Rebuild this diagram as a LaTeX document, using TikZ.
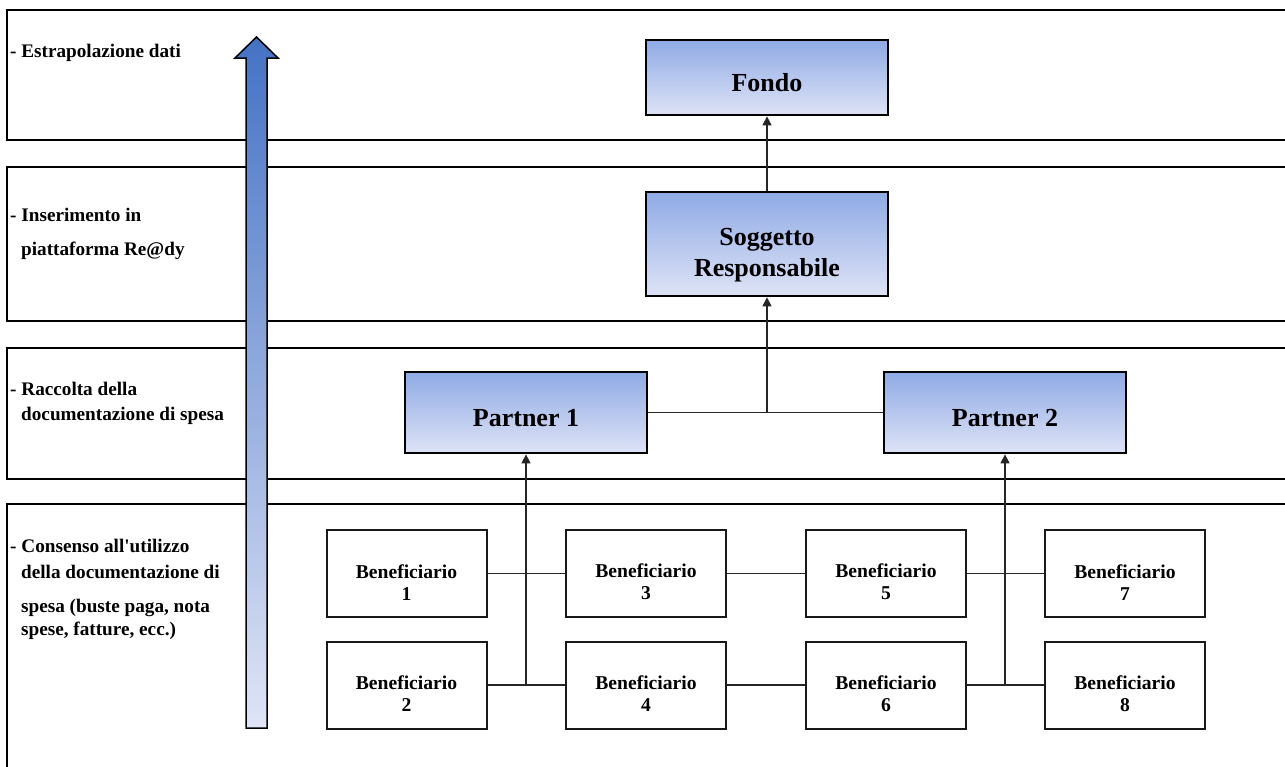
\documentclass[tikz,border=0pt]{standalone}
\usepackage{fontspec}
\setmainfont{Liberation Serif}
\usetikzlibrary{arrows.meta}

\definecolor{boxtop}{RGB}{143,170,229}
\definecolor{boxbot}{RGB}{222,227,246}
\definecolor{arrtop}{RGB}{68,114,196}
\definecolor{arrbot}{RGB}{224,229,246}

\tikzset{
  band/.style={draw=black, line width=2.7pt},
  bluebox/.style={draw=black, line width=2.7pt, top color=boxtop, bottom color=boxbot,
    minimum width=242pt, inner sep=0pt, align=center,
    font=\bfseries\fontsize{26}{31}\selectfont},
  oneline/.style={text height=27pt, text depth=0pt},
  benbox/.style={draw=black!90, line width=2pt, fill=white,
    minimum width=160pt, minimum height=87pt, inner sep=0pt, align=center,
    font=\bfseries\fontsize{19.6}{22}\selectfont},
  link/.style={draw=black!85, line width=1.1pt},
  uparr/.style={link, -{Triangle[length=9pt,width=9pt]}},
  lbl/.style={anchor=base west, inner sep=0pt,
    font=\bfseries\fontsize{19.2}{22}\selectfont}
}
% struts that lower a two-line label inside its box
\newcommand{\benstrut}{\rule{0pt}{31pt}}
\newcommand{\soggstrut}{\rule{0pt}{39pt}}

\begin{document}
\begin{tikzpicture}[x=1pt, y=-1pt]
\useasboundingbox (0,0) rectangle (1285,766);
\clip (0,0) rectangle (1285,766);

% horizontal bands (open to the right)
\draw[band] (1300,10) -- (7,10) -- (7,140) -- (1300,140);
\draw[band] (1300,167) -- (7,167) -- (7,321) -- (1300,321);
\draw[band] (1300,348) -- (7,348) -- (7,479) -- (1300,479);
\draw[band] (1300,504) -- (7,504) -- (7,780);

% band captions
\node[lbl] (t1) at (10,57) {- Estrapolazione dati};
\node[lbl] (t2a) at (10,221) {- Inserimento in};
\node[lbl] (t2b) at (21,255) {piattaforma Re@dy};
\node[lbl] (t3a) at (10,395) {- Raccolta della};
\node[lbl] (t3b) at (21,420) {documentazione di spesa};
\node[lbl] (t4a) at (10,552) {- Consenso all\textquotesingle utilizzo};
\node[lbl] (t4b) at (21,578) {della documentazione di};
\node[lbl] (t4c) at (21,612) {spesa (buste paga, nota};
\node[lbl] (t4d) at (21,635) {spese, fatture, ecc.)};

% large upward process arrow
\shade[top color=arrtop, bottom color=arrbot, draw=black, line width=1.5pt]
  (246,728) -- (246,58) -- (235,58) -- (256.5,37) -- (278,58) -- (267,58) -- (267,728) -- cycle;

% hierarchy
\node[bluebox, oneline, minimum height=75pt] (fondo) at (767,77.5) {Fondo};
\node[bluebox, minimum height=104pt] (sogg) at (767,244) {\soggstrut Soggetto\\Responsabile};
\node[bluebox, oneline, minimum height=81pt] (p1) at (526,412.5) {Partner 1};
\node[bluebox, oneline, minimum height=81pt] (p2) at (1005,412.5) {Partner 2};

\node[benbox] (b1) at (406.5,573.5) {\benstrut Beneficiario\\1};
\node[benbox] (b2) at (406.5,685) {\benstrut Beneficiario\\2};
\node[benbox] (b3) at (646,573.5) {\benstrut Beneficiario\\3};
\node[benbox] (b4) at (646,685) {\benstrut Beneficiario\\4};
\node[benbox] (b5) at (886,573.5) {\benstrut Beneficiario\\5};
\node[benbox] (b6) at (886,685) {\benstrut Beneficiario\\6};
\node[benbox] (b7) at (1125,573.5) {\benstrut Beneficiario\\7};
\node[benbox] (b8) at (1125,685) {\benstrut Beneficiario\\8};

% connectors
\draw[link] (b1.east) -- (b3.west);
\draw[link] (b3.east) -- (b5.west);
\draw[link] (b5.east) -- (b7.west);
\draw[link, line width=1.5pt] (b2.east) -- (b4.west);
\draw[link] (b4.east) -- (b6.west);
\draw[link, line width=1.5pt] (b6.east) -- (b8.west);

\draw[uparr] (p1.south |- b2.east) -- (p1.south);
\draw[uparr] (p2.south |- b6.east) -- (p2.south);
\draw[link] (p1.east) -- (p2.west);
\draw[uparr] (sogg.south |- p1.east) -- (sogg.south);
\draw[uparr] (sogg.north) -- (fondo.south);
\end{tikzpicture}
\end{document}
